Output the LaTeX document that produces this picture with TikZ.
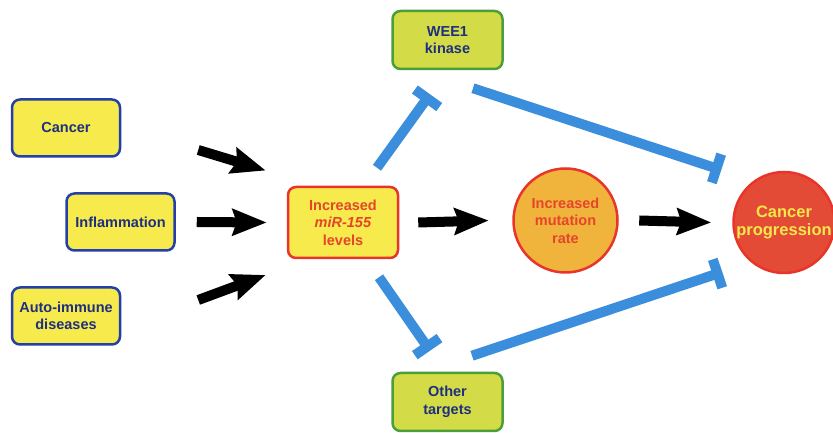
\documentclass[tikz,border=0pt]{standalone}
\usepackage{fontspec}
\setmainfont{Liberation Sans}
\usepackage{tikz}
\usetikzlibrary{positioning,arrows.meta,calc}
\definecolor{camar}{HTML}{F6EA4C}
\definecolor{cazul}{HTML}{2440A6}
\definecolor{ctexto}{HTML}{1F2F80}
\definecolor{crojo}{HTML}{E8342A}
\definecolor{crojot}{HTML}{E5452B}
\definecolor{cverde}{HTML}{4C9E3A}
\definecolor{cverdef}{HTML}{D3DB46}
\definecolor{cnaranja}{HTML}{F0B43C}
\definecolor{cprog}{HTML}{E44B36}
\definecolor{cprogt}{HTML}{F4E84A}
\definecolor{cinhib}{HTML}{3B8EDC}
\tikzset{
  caja/.style={rectangle, rounded corners=8pt, draw=cazul, line width=2.5pt, fill=camar,
    minimum width=108pt, minimum height=57pt, align=center, text=ctexto,
    font=\fontsize{14.5}{17.5}\selectfont\bfseries},
  cajav/.style={caja, draw=cverde, fill=cverdef, minimum width=110pt, minimum height=58pt},
  cajar/.style={caja, draw=crojo, text=crojot, minimum width=110pt, minimum height=71pt},
  circ/.style={circle, draw=crojo, line width=2.5pt, align=center,
    font=\fontsize{14.5}{17.5}\selectfont\bfseries},
  flecha/.style={-{Stealth[length=34pt,width=26pt,inset=4pt]}, line width=10pt, draw=black},
  inhib/.style={-{Bar[width=30pt]}, line width=10pt, draw=cinhib},
}
\begin{document}
\begin{tikzpicture}[x=1pt, y=1pt]
  \path[use as bounding box, fill=white] (0,0) rectangle (833,433);
  % causes
  \node[caja] (cancer) at (66,305) {Cancer};
  \node[caja] (infl) at (120.5,211) {Inflammation};
  \node[caja] (auto) at (66,117) {Auto-immune\\diseases};
  % mir-155 and targets
  \node[cajar] (mir) at (343,210.5) {Increased\\\textit{miR-155}\\levels};
  \node[cajav] (wee) at (447.5,393) {WEE1\\kinase};
  \node[cajav] (other) at (447.5,31) {Other\\targets};
  \node[circ, fill=cnaranja, text=crojot, minimum size=104pt] (mut) at (565.5,212.5)
    {Increased\\mutation\\rate};
  \node[circ, fill=cprog, text=cprogt, minimum size=101pt, inner sep=0pt,
    font=\fontsize{16.5}{18.5}\selectfont\bfseries] (prog) at (784,210.5)
    {Cancer\\progression};
  \draw[flecha] ([shift={(77,-22)}]cancer.east) -- ([shift={(-21,52)}]mir.west);
  \draw[flecha] ([shift={(21,0)}]infl.east) -- ([shift={(-20,0)}]mir.west);
  \draw[flecha] ([shift={(77,16)}]auto.east) -- ([shift={(-21,-52.5)}]mir.west);
  \draw[flecha] ([shift={(19,0)}]mir.east) -- ([shift={(-23.5,0)}]mut.west);
  \draw[flecha] ([shift={(20.5,0)}]mut.east) -- ([shift={(-21,0)}]prog.west);
  % inhibitions
  \draw[inhib] ([shift={(34,18)}]mir.north) -- ([shift={(-17.5,-24)}]wee.south);
  \draw[inhib] ([shift={(36,-18)}]mir.south) -- ([shift={(-17.5,21)}]other.north);
  \draw[inhib] ([shift={(25.5,-18)}]wee.south) -- ([shift={(-11,52.5)}]prog.west);
  \draw[inhib] ([shift={(24.5,16)}]other.north) -- ([shift={(-10,-49.5)}]prog.west);
\end{tikzpicture}
\end{document}
